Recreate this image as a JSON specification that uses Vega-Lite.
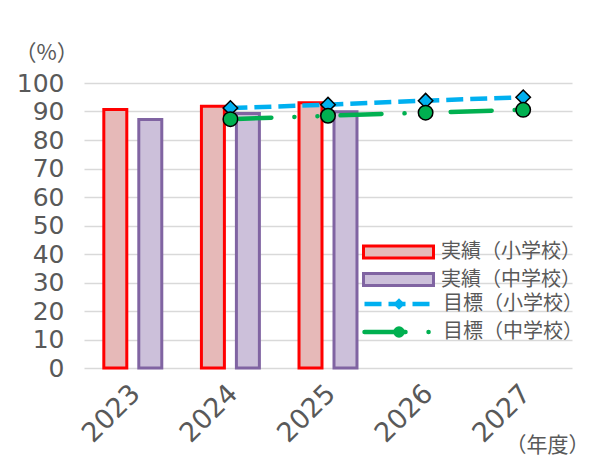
{
  "$schema": "https://vega.github.io/schema/vega-lite/v6.json",
  "width": 488,
  "height": 285,
  "autosize": "none",
  "padding": {"left": 84, "top": 83, "right": 19, "bottom": 96},
  "background": "white",
  "config": {
    "view": {"stroke": null},
    "font": "Noto Sans CJK JP",
    "axis": {"labelFont": "DejaVu Sans", "titleFont": "Noto Sans CJK JP"},
    "legend": {"labelFont": "Noto Sans CJK JP"}
  },
  "data": {
    "values": [
      {"year": "2023", "series": "実績（小学校）", "kind": "actual", "value": 90.7},
      {"year": "2023", "series": "実績（中学校）", "kind": "actual", "value": 87.2},
      {"year": "2024", "series": "実績（小学校）", "kind": "actual", "value": 91.8},
      {"year": "2024", "series": "実績（中学校）", "kind": "actual", "value": 89.3},
      {"year": "2025", "series": "実績（小学校）", "kind": "actual", "value": 93.1},
      {"year": "2025", "series": "実績（中学校）", "kind": "actual", "value": 89.9},
      {"year": "2024", "series": "目標（小学校）", "kind": "target", "value": 91.2},
      {"year": "2025", "series": "目標（小学校）", "kind": "target", "value": 92.4},
      {"year": "2026", "series": "目標（小学校）", "kind": "target", "value": 93.8},
      {"year": "2027", "series": "目標（小学校）", "kind": "target", "value": 95.0},
      {"year": "2024", "series": "目標（中学校）", "kind": "target", "value": 87.3},
      {"year": "2025", "series": "目標（中学校）", "kind": "target", "value": 88.5},
      {"year": "2026", "series": "目標（中学校）", "kind": "target", "value": 89.6},
      {"year": "2027", "series": "目標（中学校）", "kind": "target", "value": 90.6}
    ]
  },
  "encoding": {
    "x": {
      "field": "year",
      "type": "nominal",
      "scale": {"domain": ["2023", "2024", "2025", "2026", "2027"], "paddingInner": 0.406, "paddingOuter": 0.203},
      "axis": {
        "title": "（年度）",
        "titleAngle": 0,
        "titleX": 463,
        "titleY": 77,
        "titleAlign": "center",
        "titleBaseline": "middle",
        "titleFontSize": 21,
        "titleFontWeight": "normal",
        "titleColor": "#595959",
        "labelAngle": -45,
        "labelFontSize": 27,
        "labelColor": "#595959",
        "labelPadding": 12,
        "labelOffset": -6,
        "domain": false,
        "ticks": false,
        "grid": false
      }
    },
    "y": {
      "field": "value",
      "type": "quantitative",
      "scale": {"domain": [0, 100]},
      "axis": {
        "title": "（%）",
        "titleAngle": 0,
        "titleX": -38,
        "titleY": -31,
        "titleAlign": "center",
        "titleBaseline": "middle",
        "titleFontSize": 22,
        "titleFontWeight": "normal",
        "titleColor": "#595959",
        "values": [0, 10, 20, 30, 40, 50, 60, 70, 80, 90, 100],
        "labelFontSize": 25,
        "labelColor": "#595959",
        "labelPadding": 20,
        "domain": false,
        "ticks": false,
        "grid": true,
        "gridColor": "#D9D9D9",
        "gridWidth": 1.5
      }
    }
  },
  "layer": [
    {
      "transform": [{"filter": "datum.kind === 'actual'"}],
      "mark": {"type": "bar", "strokeWidth": 3},
      "encoding": {
        "xOffset": {"field": "series", "type": "nominal", "scale": {"domain": ["実績（小学校）", "実績（中学校）"], "paddingInner": 0.343, "paddingOuter": 0}},
        "fill": {
          "field": "series", "type": "nominal",
          "scale": {"domain": ["実績（小学校）", "実績（中学校）"], "range": ["#E6B9B8", "#CCC0DA"]},
          "legend": {"title": null, "orient": "none", "legendX": 278, "legendY": 159, "clipHeight": 20, "symbolType": "M-1,-0.17H1V0.17H-1Z", "symbolSize": 4900, "symbolStrokeWidth": 3, "labelFontSize": 20, "labelColor": "#595959", "rowPadding": 7.5, "labelOffset": 6}
        },
        "stroke": {
          "field": "series", "type": "nominal",
          "scale": {"domain": ["実績（小学校）", "実績（中学校）"], "range": ["#FF0000", "#8064A2"]},
          "legend": {"title": null, "orient": "none", "legendX": 278, "legendY": 159, "clipHeight": 20, "symbolType": "M-1,-0.17H1V0.17H-1Z", "symbolSize": 4900, "symbolStrokeWidth": 3, "labelFontSize": 20, "labelColor": "#595959", "rowPadding": 7.5, "labelOffset": 6}
        }
      }
    },
    {
      "transform": [{"filter": "datum.series === '目標（小学校）'"}],
      "mark": {"type": "line", "strokeWidth": 4.5, "strokeCap": "butt"},
      "encoding": {
        "color": {
          "field": "series", "type": "nominal",
          "scale": {"domain": ["目標（小学校）", "目標（中学校）"], "range": ["#00B0F0", "#00B050"]},
          "legend": {"title": null, "orient": "none", "legendX": 278, "legendY": 211, "clipHeight": 20, "symbolType": "stroke", "symbolSize": 4900, "symbolStrokeWidth": 4.5, "labelFontSize": 20, "labelColor": "#595959", "rowPadding": 8, "labelOffset": 6,
            "encode": {"symbols": {"update": {"strokeCap": {"signal": "indexof(datum.value, '中学校') >= 0 ? 'round' : 'butt'"}}}}}
        },
        "strokeDash": {
          "field": "series", "type": "nominal",
          "scale": {"domain": ["目標（小学校）", "目標（中学校）"], "range": [[17, 7], [41, 23, 0.1, 23, 0.1, 23]]},
          "legend": {"title": null, "orient": "none", "legendX": 278, "legendY": 211, "clipHeight": 20, "symbolType": "stroke", "symbolSize": 4900, "symbolStrokeWidth": 4.5, "labelFontSize": 20, "labelColor": "#595959", "rowPadding": 8, "labelOffset": 6,
            "encode": {"symbols": {"update": {"strokeCap": {"signal": "indexof(datum.value, '中学校') >= 0 ? 'round' : 'butt'"}}}}}
        }
      }
    },
    {
      "transform": [{"filter": "datum.series === '目標（中学校）'"}],
      "mark": {"type": "line", "strokeWidth": 4.5, "strokeCap": "round"},
      "encoding": {
        "color": {"field": "series", "type": "nominal"},
        "strokeDash": {"field": "series", "type": "nominal"}
      }
    },
    {
      "transform": [{"filter": "datum.kind === 'target'"}],
      "mark": {"type": "point", "filled": true, "stroke": "black", "strokeWidth": 1.5, "opacity": 1, "size": 210},
      "encoding": {
        "fill": {
          "field": "series", "type": "nominal",
          "scale": {"domain": ["目標（小学校）", "目標（中学校）"], "range": ["#00B0F0", "#00B050"]},
          "legend": {"title": null, "orient": "none", "legendX": 305, "legendY": 211, "clipHeight": 20, "symbolSize": 130, "symbolStrokeColor": "black", "symbolStrokeWidth": 1.5, "labelFontSize": 20, "labelExpr": "''", "rowPadding": 8,
            "encode": {"symbols": {"update": {"stroke": {"value": "black"}, "strokeWidth": {"value": 1.5}, "size": {"value": 130}}}}}
        },
        "shape": {
          "field": "series", "type": "nominal",
          "scale": {"domain": ["目標（小学校）", "目標（中学校）"], "range": ["diamond", "circle"]},
          "legend": {"title": null, "orient": "none", "legendX": 305, "legendY": 211, "clipHeight": 20, "symbolSize": 130, "symbolStrokeColor": "black", "symbolStrokeWidth": 1.5, "labelFontSize": 20, "labelExpr": "''", "rowPadding": 8,
            "encode": {"symbols": {"update": {"stroke": {"value": "black"}, "strokeWidth": {"value": 1.5}, "size": {"value": 130}}}}}
        }
      }
    }
  ],
  "resolve": {"scale": {"fill": "independent", "stroke": "independent", "shape": "independent"}}
}
